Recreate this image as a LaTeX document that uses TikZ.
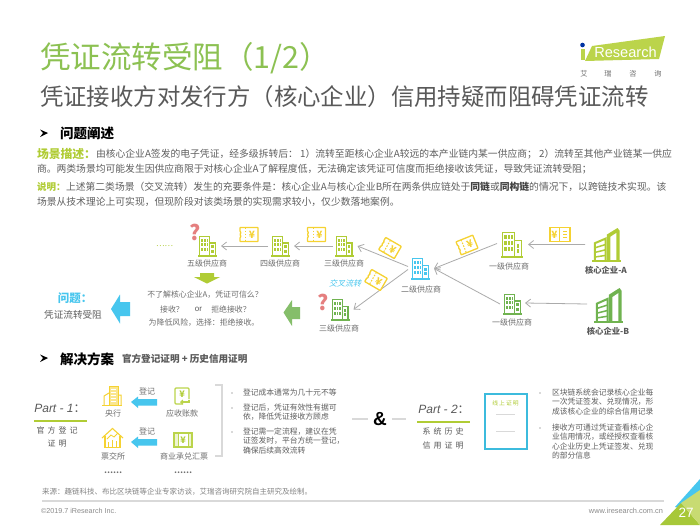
\documentclass[tikz,border=0pt]{standalone}
\usepackage{fontspec}
\usetikzlibrary{arrows.meta}
\setmainfont{Noto Sans CJK SC}
\newfontfamily\arialf{Liberation Sans}
\newfontfamily\cjkslant[FakeSlant=0.25]{Noto Sans CJK SC}
\newcommand\fs[1]{\fontsize{#1}{#1}\selectfont}
\definecolor{titlegreen}{HTML}{8CC152}
\definecolor{subgray}{HTML}{595959}
\definecolor{txtgray}{HTML}{5F5F5F}
\definecolor{lblgray}{HTML}{6E6E6E}
\definecolor{lime}{HTML}{B0CC35}
\definecolor{limeB}{HTML}{BBD44B}
\definecolor{leaf}{HTML}{70B350}
\definecolor{sky}{HTML}{47C6EE}
\definecolor{tick}{HTML}{F5D232}
\definecolor{qred}{HTML}{E57F7F}
\definecolor{arrgray}{HTML}{ABABAB}
\definecolor{rulegray}{HTML}{D9D9D9}
\tikzset{
  tx/.style={inner sep=0,outer sep=0,text=txtgray},
  lbl/.style={tx,text=lblgray,font=\fs{8}},
  parat/.style={tx,anchor=west,font=\fs{9.8}},
  bul/.style={tx,anchor=north west,align=left,font=\fontsize{7.8}{9.45}\selectfont},
  arr/.style={draw=arrgray,line width=.8pt,-{Straight Barb[length=5pt,width=8pt,line width=.8pt]}},
  iconbox/.style={inner sep=0,outer sep=0,minimum width=100pt,minimum height=100pt,transform shape},
  fatblue/.style={fill=sky,draw=none},
}
% name x y w h colour
\newcommand\bldg[6]{%
 \begin{scope}[shift={(#2,#3)},xscale=#4/100,yscale=#5/100]
  \node[iconbox] (#1) at (50,50) {};
  \draw[#6,line width=1.2pt] (8,100)--(8,3)--(60,3)--(60,100) (60,35)--(92,35)--(92,100);
  \draw[#6,line width=1.5pt] (0,100)--(100,100);
  \foreach \wx in {15,30,45}\foreach \wy in {13,37,61}{\fill[#6] (\wx,\wy) rectangle ++(10,15);}
  \foreach \wy in {47,68}{\fill[#6] (71,\wy) rectangle ++(12,15);}
 \end{scope}}
\newcommand\corebldg[6]{%
 \begin{scope}[shift={(#2,#3)},xscale=#4/100,yscale=#5/100]
  \node[iconbox] (#1) at (50,50) {};
  \draw[#6,line width=2pt] (10,100)--(10,46)--(47,32)--(47,100);
  \draw[#6,line width=1.5pt] (10,60)--(47,50) (10,74)--(47,66) (10,88)--(47,83);
  \fill[#6] (51,100)--(51,20)--(88,0)--(95,8)--(95,100)--cycle;
  \fill[white] (63,100)--(63,27)--(84,15)--(84,100)--cycle;
  \draw[#6,line width=2.2pt] (0,100)--(100,100);
 \end{scope}}
% name x y(centre) rotation : yen right
\newcommand\ticketA[4]{%
 \begin{scope}[shift={(#2,#3)},rotate=#4]
  \draw[tick,line width=1.3pt,fill=white,rounded corners=.5pt] (-9,-7)--(9,-7)--(9,7)--(-9,7)--(-9,3)--(-8,2)--(-9,0)--(-8,-2)--(-9,-3)--cycle;
  \draw[tick,line width=1pt,dash pattern=on 1.6pt off 1.4pt] (-3.5,-7)--(-3.5,7);
  \node[tx,text=tick,transform shape,font=\fs{10}\bfseries] (#1) at (3,0) {¥};
 \end{scope}}
\newcommand\ticketB[4]{%
 \begin{scope}[shift={(#2,#3)},rotate=#4]
  \draw[tick,line width=1.3pt,fill=white] (-10,-7) rectangle (10,7);
  \draw[tick,line width=1pt] (-1,-7)--(-1,7) (3,-3)--(7,-3) (3,0)--(7,0) (3,3)--(7,3);
  \node[tx,text=tick,transform shape,font=\fs{10}\bfseries] (#1) at (-5.5,0) {¥};
 \end{scope}}
\begin{document}
\begin{tikzpicture}[x=1pt,y=-1pt]
\useasboundingbox (0,0) rectangle (700,525);
\fill[white] (0,0) rectangle (700,525);
% --- header
\node[tx,anchor=west,text=titlegreen,font=\fs{30.5}] (title) at (40,58) {凭证流转受阻（1/2）};
\node[tx,anchor=west,text=subgray,font=\fs{23.4}] (subtitle) at (40,97) {凭证接收方对发行方（核心企业）信用持疑而阻碍凭证流转};
% logo
\fill[limeB] (592,46)--(665,36)--(659,59)--(585,61)--cycle;
\fill[blue!55!black!80!cyan] (582.5,45) circle (2.3);
\fill[limeB] (580.5,49) rectangle (584.5,60);
\node[tx,text=white,anchor=center,font=\arialf\fs{14.6}] (logotext) at (625.5,52.5) {Research};
\foreach \lx/\lc/\ln in {584/艾/la,608/瑞/lb,633/咨/lc,658/询/ld}{\node[tx,text=lblgray,font=\fs{7.2}] (\ln) at (\lx,74) {\lc};}
% --- section 1
\fill[black] (40,129.5)--(48,133)--(40,137)--(43,133)--cycle;
\node[tx,anchor=west,text=black,font=\fs{13.5}\bfseries] (sec1) at (60,133) {问题阐述};
\node[tx,anchor=west,text=lime,font=\fs{11.8}\bfseries] (scn) at (37,154) {场景描述：};
\node[parat] (p1) at (96,154) {由核心企业A签发的电子凭证，经多级拆转后： 1）流转至距核心企业A较远的本产业链内某一供应商； 2）流转至其他产业链某一供应};
\node[parat] (p2) at (37,169) {商。两类场景均可能发生因供应商限于对核心企业A了解程度低，无法确定该凭证可信度而拒绝接收该凭证，导致凭证流转受阻；};
\node[tx,anchor=west,text=lime,font=\fs{9.5}\bfseries] (expl) at (37,187) {说明：};
\node[parat] (p3) at (66,187) {上述第二类场景（交叉流转）发生的充要条件是：核心企业A与核心企业B所在两条供应链处于\textcolor{black!75}{\bfseries 同链}或\textcolor{black!75}{\bfseries 同构链}的情况下，以跨链技术实现。该};
\node[parat] (p4) at (37,202) {场景从技术理论上可实现，但现阶段对该类场景的实现需求较小，仅少数落地案例。};
% --- chain
\bldg{wu}{198}{236}{19}{20}{lime}
\bldg{si}{271}{236}{19}{20}{lime}
\bldg{sanT}{335}{236}{18.5}{20}{lime}
\bldg{sanB}{331}{299}{18.5}{21}{leaf}
\bldg{er}{411}{258}{19}{21}{sky}
\bldg{yiA}{501}{232}{22}{25}{lime}
\bldg{yiB}{503}{294}{19}{20}{leaf}
\corebldg{coreA}{592}{228}{29}{33}{lime}
\corebldg{coreB}{594}{288}{29}{34}{leaf}
\node[lbl] (lwu) at (207,263) {五级供应商};
\node[lbl] (lsi) at (280,263) {四级供应商};
\node[lbl] (lsanT) at (344,263) {三级供应商};
\node[lbl] (lsanB) at (339,328) {三级供应商};
\node[lbl] (ler) at (421,289) {二级供应商};
\node[lbl] (lyiA) at (509,266) {一级供应商};
\node[lbl] (lyiB) at (512,322) {一级供应商};
\node[tx,text=subgray,font=\fs{8.3}\bfseries] (lcoreA) at (606,270) {核心企业-A};
\node[tx,text=subgray,font=\fs{8.3}\bfseries] (lcoreB) at (608,331) {核心企业-B};
\draw[arr] ([shift={(-7,0)}]coreA.west) -- ([shift={(5,0)}]yiA.east);
\draw[arr] ([shift={(-7,-1)}]coreB.west) -- ([shift={(3,-1)}]yiB.east);
\draw[arr] ([shift={(-4,-1)}]yiA.west) -- ([shift={(4,0)}]er.east);
\draw[arr] ([shift={(-3,0)}]yiB.west) -- ([shift={(4,0)}]er.east);
\draw[arr] ([shift={(-3,-2)}]er.west) -- ([shift={(4,0)}]sanT.east);
\draw[arr] ([shift={(-3,1)}]er.west) -- ([shift={(4,0)}]sanB.east);
\draw[arr] ([shift={(-2,0)}]sanT.west) -- ([shift={(4,0)}]si.east);
\draw[arr] ([shift={(-3,0)}]si.west) -- ([shift={(4,0)}]wu.east);
\ticketA{ta}{249}{234.5}{0}
\ticketA{tb}{316.5}{234.5}{0}
\ticketA{tc}{390}{248}{-30}
\ticketA{td}{376}{280}{-30}
\ticketA{te}{467}{245}{22}
\ticketB{tf}{560}{234.5}{0}
\node[tx,text=qred,font=\fs{21}\bfseries] (q1) at (195,232) {?};
\node[tx,text=qred,font=\fs{21}\bfseries] (q2) at (323,302) {?};
\node[tx,text=lime,font=\fs{8}] (dots1) at (164.5,246) {……};
\node[tx,text=sky,font=\cjkslant\fs{8}] (cross) at (345,283) {交叉流转};
% conclusion block
\fill[lime] (200,273) rectangle (214,277)--(220,277)--(207,283.5)--(194,277)--(200,277)--cycle;
\node[lbl,font=\fs{7.9}] (q3) at (205,295) {不了解核心企业A，凭证可信么？};
\node[lbl,font=\fs{7.9}] (q4a) at (172,309) {接收？};
\node[tx,text=subgray,font=\arialf\fs{8}] (q4b) at (198.5,309) {or};
\node[lbl,font=\fs{7.9}] (q4c) at (231,309) {拒绝接收？};
\node[lbl,font=\fs{7.9}] (q5) at (204,323) {为降低风险，选择：拒绝接收。};
\fill[leaf!85!white] (283.5,312.5)--(292,300)--(292,307)--(300,307)--(300,319)--(292,319)--(292,326)--cycle;
\fill[sky] (111,309)--(120,294.5)--(120,302)--(130,302)--(130,316)--(120,316)--(120,323.5)--cycle;
\node[tx,text=sky,font=\fs{11.5}\bfseries] (prob) at (75,298) {问题：};
\node[lbl,font=\fs{9.6},text=txtgray] (prob2) at (73,315) {凭证流转受阻};
% --- section 2
\fill[black] (40,354.5)--(48,358)--(40,362)--(43,358)--cycle;
\node[tx,anchor=west,text=black,font=\fs{13.5}\bfseries] (sec2) at (60,359) {解决方案};
\node[tx,anchor=west,text=subgray,font=\fs{9.6}\bfseries] (sec2b) at (122,358.5) {官方登记证明 + 历史信用证明};
% part 1
\node[tx,text=subgray,font=\arialf\itshape\fs{12}] (p1t) at (60,408) {Part - 1{\normalfont\rmfamily ：}};
\draw[lime,line width=1.2pt] (34,421)--(87,421);
\node[tx,text=subgray,font=\fs{8}] (p1a) at (57,430) {官\kern3pt 方\kern3pt 登\kern3pt 记};
\node[tx,text=subgray,font=\fs{8}] (p1b) at (57,444) {证\kern3pt 明};
% central bank icon
\begin{scope}[tick,line width=1pt]
 \draw (102,405)--(122,405);
 \draw[fill=tick!55] (109,405)--(109,386)--(118,386)--(118,405);
 \draw (109,393)--(104,396)--(104,405) (118,395)--(121,395)--(121,405);
 \draw[line width=.5pt,white] (111,389)--(116,389) (111,392)--(116,392) (111,395)--(116,395) (111,398)--(116,398) (111,401)--(116,401);
\end{scope}
\node[lbl] (lyh) at (113,413) {央行};
% exchange icon
\begin{scope}[tick,line width=1.1pt]
 \draw (102,438)--(112.5,428.5)--(123,438);
 \draw (105,436)--(105,447.5)--(120,447.5)--(120,436);
 \draw[line width=.8pt] (107,439)--(111,435)--(114,437)--(118,433);
 \draw[line width=1.1pt] (108.5,447)--(108.5,442) (112.5,447)--(112.5,440) (116.5,447)--(116.5,441);
\end{scope}
\node[lbl] (ljs) at (113,456) {票交所};
% receivable icon
\draw[limeB,line width=1.1pt,rounded corners=1pt] (189,399)--(189,388)--(175,388)--(175,404)--(183,404);
\draw[limeB,line width=1.1pt,-{Straight Barb[length=2pt,width=4pt]}] (189,400)--(189,402)--(180,402);
\node[tx,text=lime,font=\fs{9}\bfseries] (yen1) at (182,394.5) {¥};
\node[lbl] (lys) at (182,413) {应收账款};
% bill icon
\draw[limeB,line width=1.1pt,fill=limeB!25] (174,433) rectangle (192,447);
\draw[limeB,line width=.8pt,fill=white] (178,433.5) rectangle (188,446.5);
\node[tx,text=lime,font=\fs{9}\bfseries] (yen2) at (183,440) {¥};
\node[lbl] (lsy) at (184,456) {商业承兑汇票};
% fat arrows
\fill[fatblue] (131,402)--(138,396.5)--(138,399)--(157,399)--(157,405.5)--(138,405.5)--(138,408)--cycle;
\fill[fatblue] (131,442)--(138,436.5)--(138,439)--(157,439)--(157,445.5)--(138,445.5)--(138,448)--cycle;
\node[lbl] (dj1) at (147,391) {登记};
\node[lbl] (dj2) at (147,431) {登记};
\node[lbl,font=\fs{8}\bfseries] (d1) at (113,473) {……};
\node[lbl,font=\fs{8}\bfseries] (d2) at (183,473) {……};
% bracket
\draw[rulegray,line width=1.1pt] (215,385)--(222,385)--(222,456)--(215,456);
% left bullets
\foreach \by in {393,408,432}{\fill[txtgray] (232,\by) circle (.7);}
\node[bul] (b1) at (243,388.5) {登记成本通常为几十元不等};
\node[bul] (b2) at (243,403.5) {登记后，凭证有效性有据可\\依，降低凭证接收方顾虑};
\node[bul] (b3) at (243,427.5) {登记需一定流程，建议在凭\\证签发时，平台方统一登记，\\确保后续高效流转};
% ampersand
\coordinate (amL) at (352,419);
\coordinate (amR) at (406,419);
\node[tx,text=black,font=\arialf\bfseries\fs{19}] (amp) at (380,419) {\&};
\draw[rulegray,line width=1.2pt] (amL) -- ([xshift=-5pt]amp.west);
\draw[rulegray,line width=1.2pt] ([xshift=5pt]amp.east) -- (amR);
% part 2
\node[tx,text=subgray,font=\arialf\itshape\fs{12}] (p2t) at (444,409) {Part - 2{\normalfont\rmfamily ：}};
\draw[lime,line width=1.2pt] (417,422)--(470,422);
\node[tx,text=subgray,font=\fs{8}] (p2a) at (443,431) {系\kern3pt 统\kern3pt 历\kern3pt 史};
\node[tx,text=subgray,font=\fs{8}] (p2b) at (443,445) {信\kern3pt 用\kern3pt 证\kern3pt 明};
\draw[sky!85!teal,line width=2pt] (484.5,393.5) rectangle (526.5,448.5);
\node[tx,text=lime,font=\fs{5.8}] (cert) at (505.5,403) {线\kern1pt 上\kern1pt 证\kern1pt 明};
\draw[rulegray,line width=.5pt] (496,414)--(515,414) (496,431)--(515,431);
\foreach \by in {393,428}{\fill[txtgray] (540,\by) circle (.7);}
\node[bul] (b4) at (552,388.5) {区块链系统会记录核心企业每\\一次凭证签发、兑现情况，形\\成该核心企业的综合信用记录};
\node[bul] (b5) at (552,423.5) {接收方可通过凭证查看核心企\\业信用情况，或经授权查看核\\心企业历史上凭证签发、兑现\\的部分信息};
% --- footer
\node[tx,anchor=west,text=lblgray!85,font=\fs{7.5}] (src) at (42,492) {来源：趣链科技、布比区块链等企业专家访谈，艾瑞咨询研究院自主研究及绘制。};
\draw[rulegray,line width=1.2pt] (42,501)--(664,501);
\node[tx,anchor=west,text=lblgray!80,font=\arialf\fs{7.2}] (copy) at (41,511) {©2019.7 iResearch Inc.};
\node[tx,anchor=east,text=lblgray!80,font=\arialf\fs{7.4}] (web) at (663,511) {www.iresearch.com.cn};
\fill[sky] (700,479)--(675,507)--(700,512)--cycle;
\fill[lime!85!leaf] (660,525)--(681,503)--(700,525)--cycle;
\fill[lime!70!white] (681,503)--(700,490)--(700,525)--cycle;
\node[tx,text=white,font=\arialf\fs{13.5}] (pg) at (686,513) {27};
\end{tikzpicture}
\end{document}
